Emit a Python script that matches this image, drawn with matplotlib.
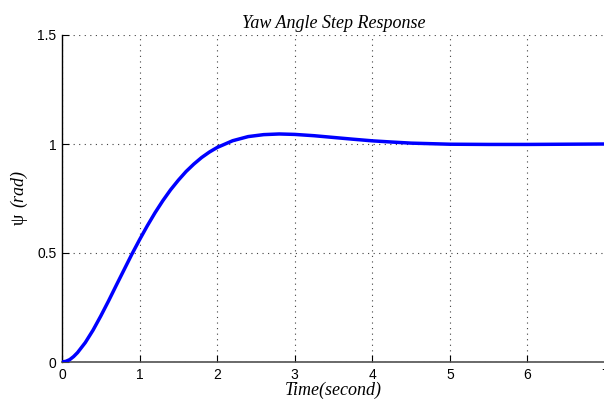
import matplotlib
matplotlib.use("Agg")
import matplotlib.pyplot as plt

# Step response
time_s = [0.0, 0.05, 0.1, 0.15, 0.2, 0.3, 0.4, 0.5, 0.6, 0.7, 0.8, 0.9, 1.0,
          1.1, 1.2, 1.3, 1.4, 1.5, 1.6, 1.7, 1.8, 1.9, 2.0,
          2.2, 2.4, 2.6, 2.8, 3.0, 3.25, 3.5, 3.75, 4.0, 4.25, 4.5,
          5.0, 5.5, 6.0, 6.5, 7.0]
psi_rad = [0.0, 0.003, 0.011, 0.025, 0.043, 0.089, 0.146, 0.211, 0.280, 0.352, 0.423, 0.494, 0.561,
           0.625, 0.685, 0.740, 0.790, 0.834, 0.874, 0.908, 0.938, 0.963, 0.984,
           1.015, 1.034, 1.043, 1.046, 1.044, 1.038, 1.030, 1.022, 1.0145, 1.009, 1.004,
           0.999, 0.998, 0.998, 0.999, 1.000]

x_ticks = [0, 1, 2, 3, 4, 5, 6, 7]
y_ticks = [0, 0.5, 1, 1.5]
y_tick_labels = ["0", "0.5", "1", "1.5"]
title_text = "Yaw Angle Step Response"
xlabel_text = "Time(second)"
ylabel_symbol = "\u03c8"
ylabel_unit = "(rad)"

fig = plt.figure(figsize=(6.04, 4.05), dpi=100)
W, H = 604, 405
ax = fig.add_axes([62 / W, (H - 362) / H, 543 / W, 327 / H])

ax.plot(time_s, psi_rad, color=(0, 0, 1), lw=2.5, solid_capstyle="round",
        solid_joinstyle="round", zorder=3)

ax.set_xlim(0, 7)
ax.set_ylim(0, 1.5)
ax.set_xticks(x_ticks)
ax.set_xticklabels([str(v) for v in x_ticks])
ax.set_yticks(y_ticks)
ax.set_yticklabels(y_tick_labels)

ax.grid(True, linestyle=(0, (1, 4)), color="#404040", linewidth=0.8)
ax.spines["top"].set_visible(False)
ax.spines["right"].set_visible(False)
ax.spines["left"].set_color("black")
ax.spines["bottom"].set_color("#505050")
ax.spines["left"].set_linewidth(1.0)
ax.spines["bottom"].set_linewidth(1.2)
ax.tick_params(direction="in", length=5, width=0.8, labelsize=10,
               colors="black", pad=4)
for lab in ax.get_xticklabels() + ax.get_yticklabels():
    lab.set_fontfamily("Liberation Sans")

ax.set_title(title_text, fontfamily="Liberation Serif", style="italic",
             fontsize=13, pad=5)
fig.text(333 / W, 1 - 390 / H, xlabel_text, fontfamily="Liberation Serif",
         style="italic", fontsize=13, ha="center", va="center")
fig.text(19 / W, 1 - 219 / H, ylabel_symbol, rotation=90,
         fontsize=13, ha="center", va="center",
         fontfamily="Liberation Serif")
fig.text(19 / W, 1 - 207 / H, ylabel_unit, rotation=90,
         fontsize=13, ha="center", va="bottom", style="italic",
         fontfamily="Liberation Serif")

fig.savefig("out.png", dpi=100)
